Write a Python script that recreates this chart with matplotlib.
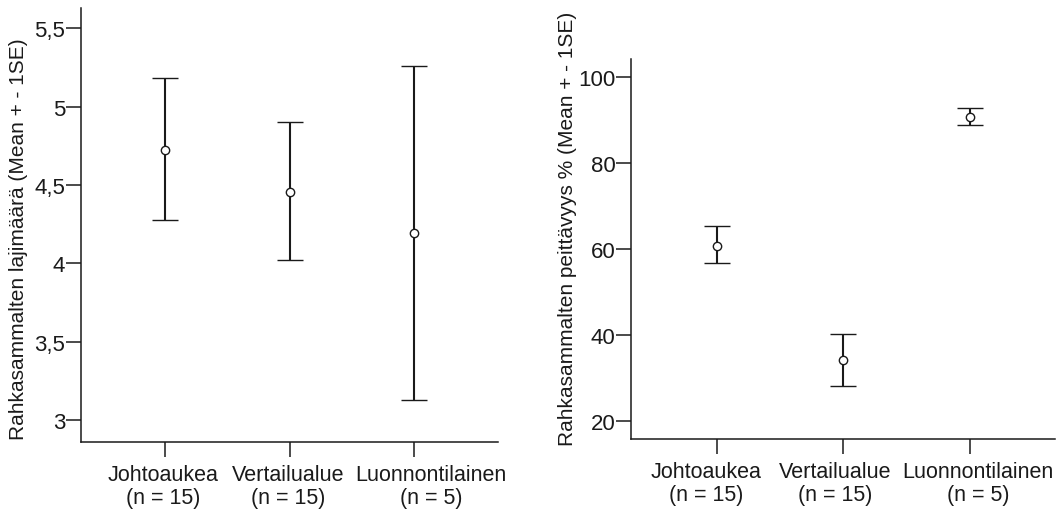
import matplotlib.pyplot as plt
import matplotlib.transforms as mtransforms
from matplotlib.ticker import FuncFormatter

plt.rcParams["font.family"] = ["Liberation Sans", "DejaVu Sans"]

ryhmat = ["Johtoaukea\n(n = 15)", "Vertailualue\n(n = 15)", "Luonnontilainen\n(n = 5)"]

# lajimäärä: keskiarvo, ylä- ja alaraja (mean +- 1SE)
laji_ka = [4.726, 4.458, 4.192]
laji_yla = [5.18, 4.90, 5.262]
laji_ala = [4.279, 4.024, 3.128]

# peittävyys %
peit_ka = [60.75, 34.0, 90.75]
peit_yla = [65.3, 40.2, 92.9]
peit_ala = [56.7, 28.1, 88.9]

vari = "#1a1a1a"


def piirra(ax, ka, yla, ala, ylabel, siirrot):
    x = [1, 2, 3]
    virhe = [[k - a for k, a in zip(ka, ala)], [y - k for k, y in zip(ka, yla)]]
    ax.errorbar(x, ka, yerr=virhe, fmt="o", mfc="white", mec=vari, ms=6, mew=1.0,
                ecolor=vari, elinewidth=1.5, capsize=9.5, capthick=2.0)
    ax.set_xticks(x)
    ax.set_xticklabels(ryhmat, fontsize=15.5, linespacing=1.15)
    ax.set_xlim(0.323, 3.672)
    ax.spines["top"].set_visible(False)
    ax.spines["right"].set_visible(False)
    for s in ["left", "bottom"]:
        ax.spines[s].set_color(vari)
        ax.spines[s].set_linewidth(1.1)
    ax.tick_params(axis="both", colors=vari, length=10.5, width=1.1)
    ax.tick_params(axis="y", pad=1, labelsize=16)
    ax.tick_params(axis="x", pad=5)
    ax.set_ylabel(ylabel, fontsize=15, color=vari)
    # nimiöt hieman sivuun, ettei teksti mene päällekkäin
    for lab, dx in zip(ax.get_xticklabels(), siirrot):
        lab.set_transform(lab.get_transform() + mtransforms.ScaledTranslation(dx / 100, 0, fig.dpi_scale_trans))


fig = plt.figure(figsize=(10.56, 5.1), dpi=100)

ax1 = fig.add_axes([0.0767, 0.1314, 0.3949, 0.851])
piirra(ax1, laji_ka, laji_yla, laji_ala, "Rahkasammalten lajimäärä (Mean + - 1SE)", [-2, -2, 17])
ax1.set_ylim(2.86, 5.63)
ax1.set_yticks([3, 3.5, 4, 4.5, 5, 5.5])
ax1.yaxis.set_major_formatter(FuncFormatter(lambda v, p: f"{v:g}".replace(".", ",")))
ax1.yaxis.set_label_coords(-0.127, 0.47)

ax2 = fig.add_axes([0.5978, 0.1373, 0.4012, 0.745])
piirra(ax2, peit_ka, peit_yla, peit_ala, "Rahkasammalten peittävyys % (Mean + - 1SE)", [-11, -8, 8])
ax2.set_ylim(15.7, 104.3)
ax2.set_yticks([20, 40, 60, 80, 100])
ax2.yaxis.set_label_coords(-0.127, 0.555)

fig.savefig("out.png", dpi=100)
